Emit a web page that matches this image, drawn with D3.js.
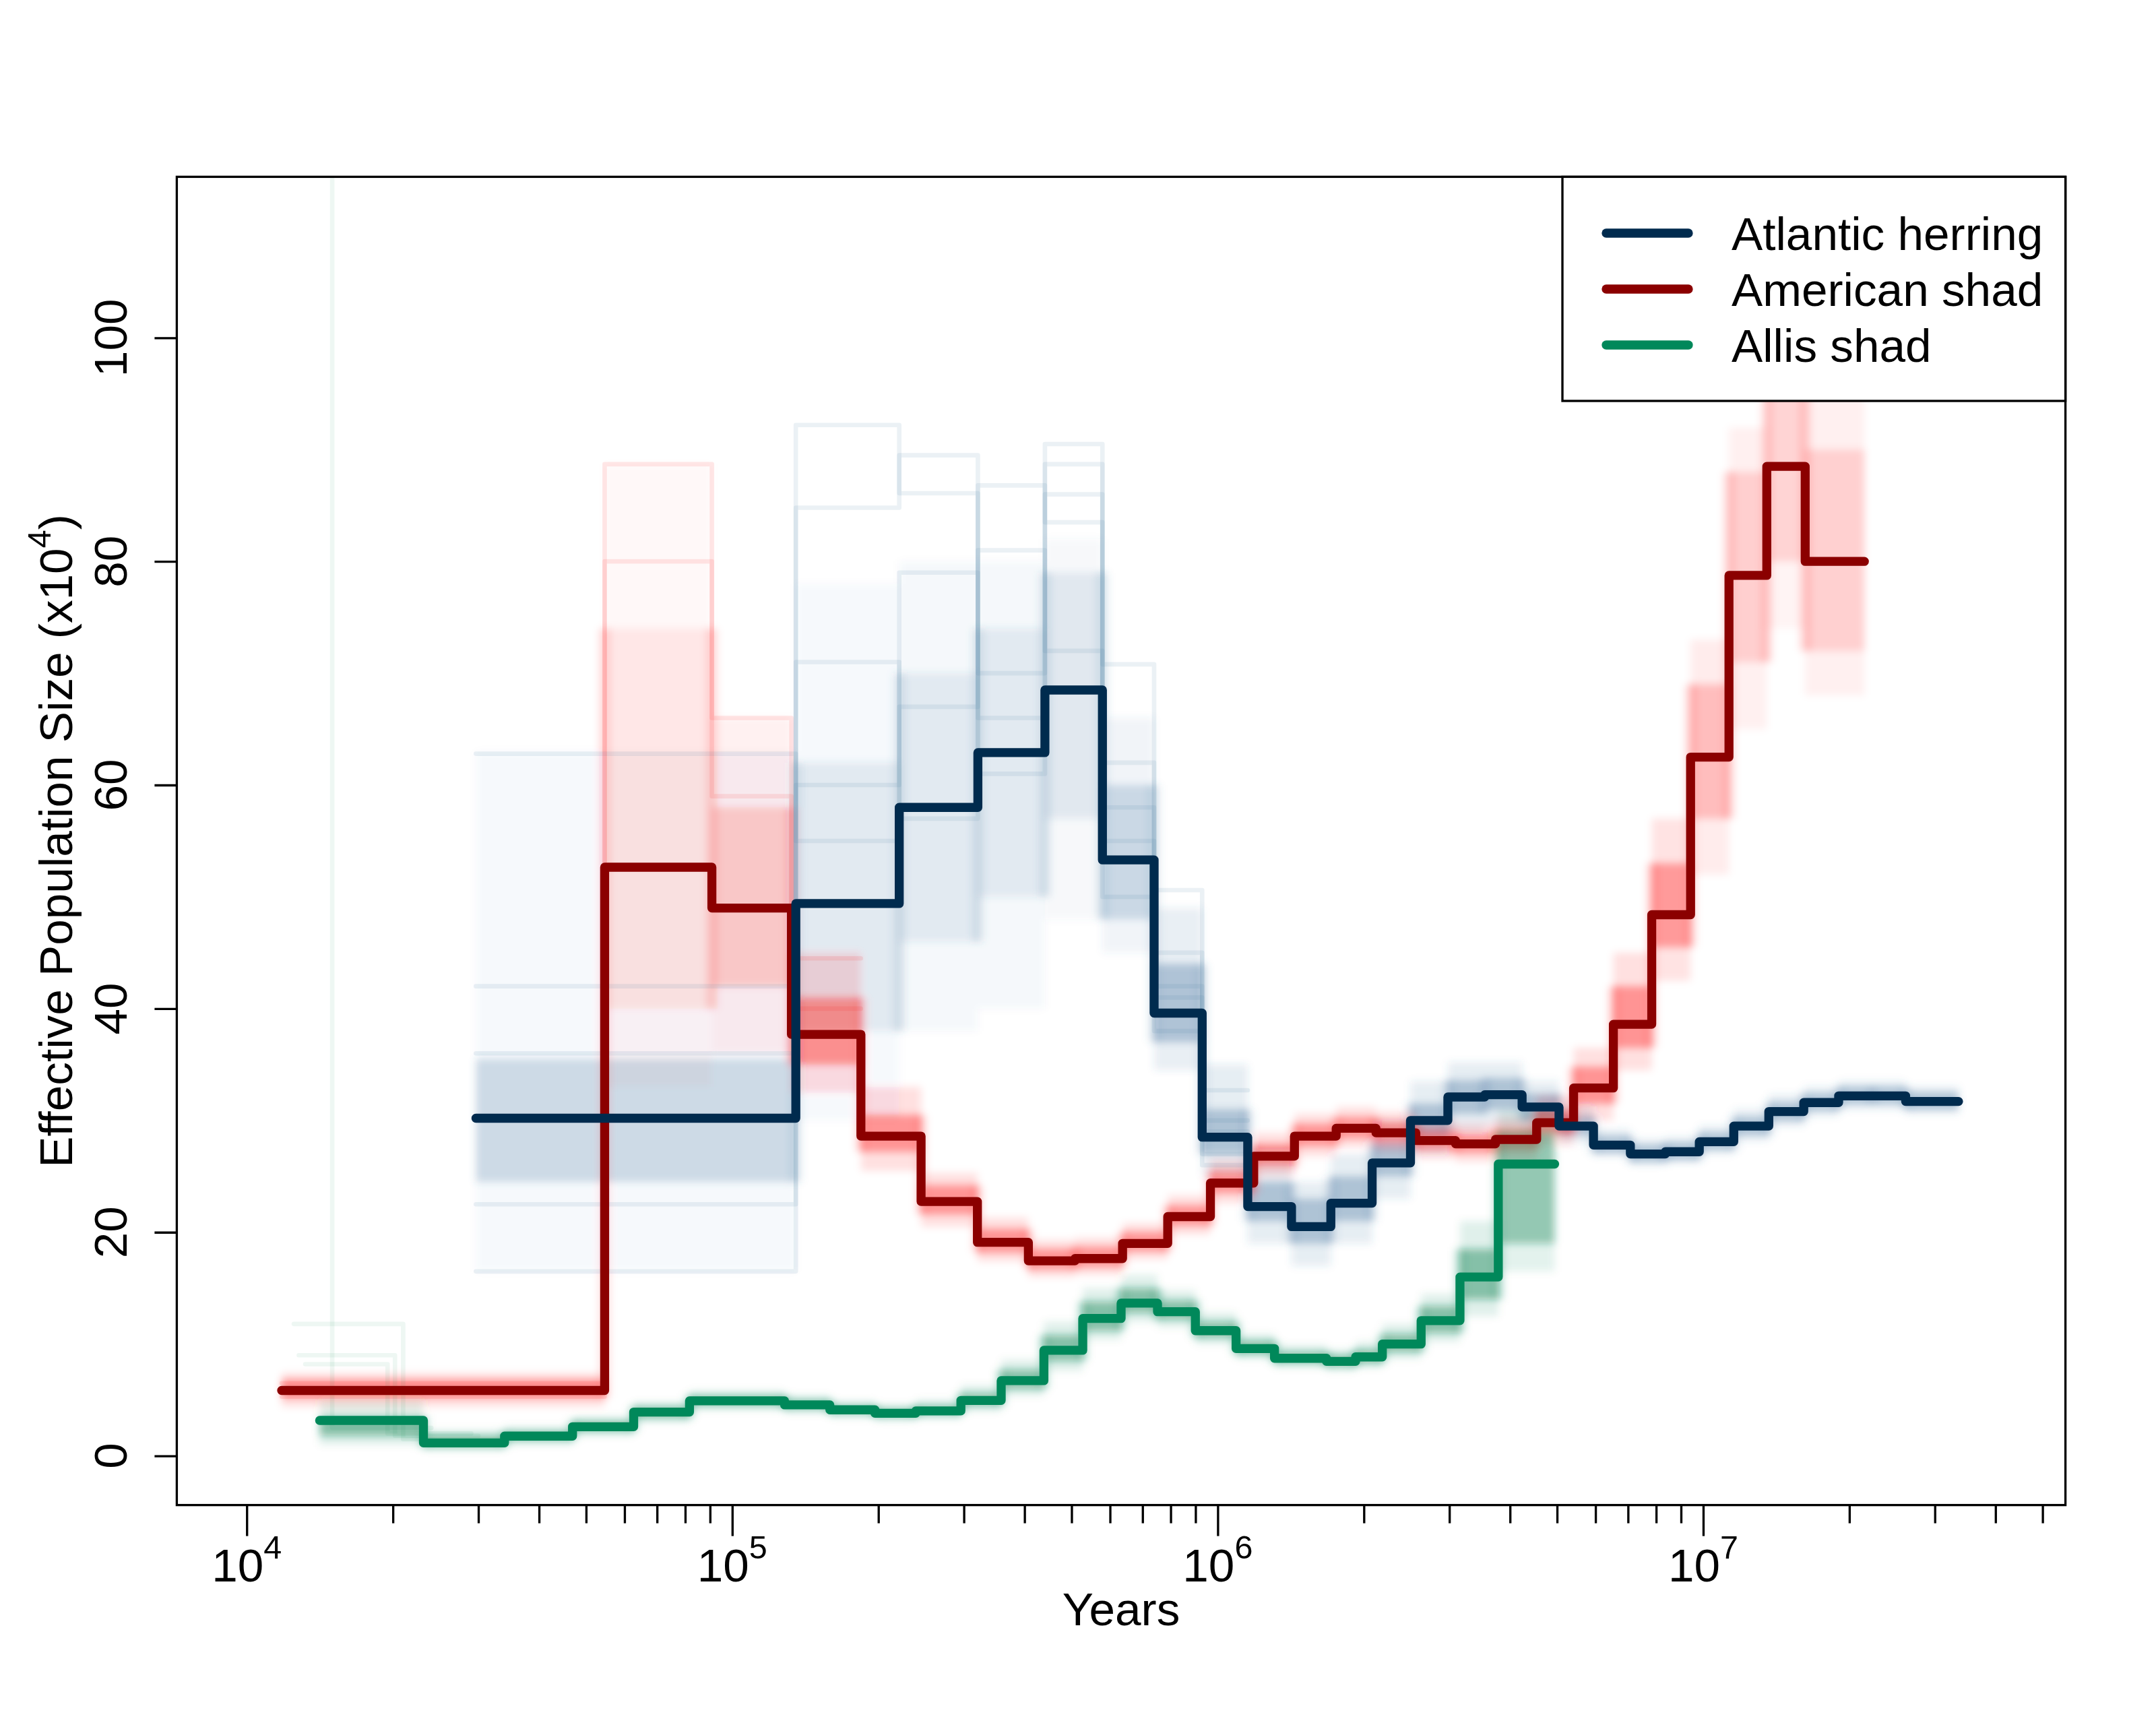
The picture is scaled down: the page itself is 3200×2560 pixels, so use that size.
<!DOCTYPE html>
<html>
<head>
<meta charset="utf-8">
<script src="https://cdn.jsdelivr.net/npm/d3@7"></script>
<style>
  html, body { margin: 0; padding: 0; background: #fff; }
  svg text { font-family: "Liberation Sans", Arial, Helvetica, sans-serif; fill: #000; }
</style>
</head>
<body>
<svg id="chart" width="3200" height="2560"></svg>
<script>
// ---- data (years, Ne in units of 10^4) ----
// Atlantic herring
var herringYears = [29650, 135200, 220800, 320600, 440600, 578800, 739600, 928900, 1153000, 1419000,
  1710000, 2080000, 2495000, 2979000, 3548000, 4236000, 5047000, 5943000, 7079000, 8356000,
  9817000, 11560000, 13650000, 16110000, 19010000, 22280000, 26120000, 33570000];
var herringNe = [30.2, 49.4, 58.0, 62.9, 68.5, 53.3, 39.6, 28.5, 22.3, 20.5, 22.6, 26.2, 30.0, 32.1,
  32.3, 31.2, 29.5, 27.8, 27.0, 27.2, 28.1, 29.5, 30.8, 31.6, 32.2, 32.2, 31.7];
var herringInnerLo = [24.5, 38, 46, 50, 57, 48, 37, 27, 21, 19, 21, 25, 28.6, 30.6, 31, 30, 28.7,
  27.1, 26.3, 26.5, 27.4, 28.7, 30.0, 30.9, 31.5, 31.5, 31.0];
var herringInnerHi = [35.5, 62, 70, 74, 79, 60, 44, 31, 24.5, 23, 25, 28, 31.5, 33.6, 33.8, 32.4,
  30.4, 28.6, 27.8, 28.0, 28.9, 30.3, 31.6, 32.4, 33.0, 33.0, 32.5];
var herringOuterLo = [16.5, 30, 38, 40, 48, 45, 34.5, 25, 19, 17, 19, 23, 27, 29, 29.5, 29, 28,
  26.8, 26, 26.2, 27, 28.2, 29.5, 30.4, 31, 31, 30.6];
var herringOuterHi = [63, 78, 80, 80, 82, 66, 49, 35, 27.5, 24.5, 27, 30, 33.5, 35.2, 35.2, 33.5,
  31.3, 29.2, 28.3, 28.5, 29.5, 31, 32.3, 33, 33.5, 33.5, 33];
// a few single bootstrap runs that stand out above the haze (first 8 intervals)
var herringRuns = [
  [22.5, 92.2, 86.1, 61, 90.5, 55, 42, 29],
  [42, 84.8, 89.5, 70, 88.7, 70.8, 50.6, 32.7],
  [36, 71, 57, 86.8, 83.5, 62, 45, 30],
  [16.5, 60, 79, 66, 86, 58, 41, 27],
  [62.8, 55, 67, 81, 72, 50, 38, 26]
];

// American shad
var shadYears = [11800, 54600, 90800, 132400, 184100, 244900, 319900, 407400, 508200, 636800,
  788900, 966000, 1186000, 1439000, 1754000, 2118000, 2559000, 3090000, 3733000, 4539000,
  5408000, 6531000, 7834000, 9419000, 11300000, 13520000, 16220000, 21480000];
var shadNe = [5.85, 52.65, 49.0, 37.7, 28.6, 22.75, 19.1, 17.45, 17.65, 19.0, 21.4, 24.4, 26.8,
  28.6, 29.3, 28.9, 28.2, 27.9, 28.3, 29.8, 32.9, 38.6, 48.4, 62.5, 78.75, 88.5, 80.0];
var shadInnerLo = [5.2, 40, 42, 35, 27.2, 21.6, 18.2, 16.7, 16.9, 18.3, 20.6, 23.5, 25.9, 27.7,
  28.4, 28.0, 27.4, 27.1, 27.4, 28.8, 31.5, 36.5, 45.5, 57, 71, 80, 72];
var shadInnerHi = [6.8, 74, 58, 41, 30.5, 24.2, 20.3, 18.5, 18.7, 20.0, 22.4, 25.5, 27.9, 29.7,
  30.3, 29.9, 29.1, 28.8, 29.3, 31.0, 34.8, 42, 53, 69, 88, 98, 90];
var shadOuterLo = [4.4, 33, 36, 32.5, 25.5, 20.5, 17.4, 16.0, 16.2, 17.6, 19.8, 22.6, 25.0, 26.8,
  27.6, 27.2, 26.6, 26.3, 26.5, 27.8, 30.0, 34.5, 42.5, 52, 65, 74, 68];
var shadOuterHi = [7.4, 88.7, 66, 45, 33, 25.3, 21.3, 19.3, 19.5, 20.8, 23.3, 26.5, 28.9, 30.6,
  31.2, 30.8, 30.0, 29.7, 30.2, 32.2, 36.5, 45, 57, 73, 92, 110, 95];
var shadRuns = [
  [5.3, 88.7, 66, 44.5],
  [6.5, 80, 59, 40]
];

// Allis shad
var allisYears = [14130, 23120, 33960, 46880, 62660, 81660, 128200, 158900, 196800, 238800,
  295800, 358100, 438500, 527200, 632400, 751600, 899500, 1091000, 1309000, 1675000,
  1923000, 2183000, 2624000, 3155000, 3784000, 4943000];
var allisNe = [3.17, 1.16, 1.77, 2.61, 3.92, 4.92, 4.56, 4.12, 3.81, 4.02, 4.96, 6.73, 9.44, 12.29,
  13.66, 12.89, 11.2, 9.60, 8.73, 8.45, 8.85, 10.0, 12.1, 16.0, 26.1];
var allisInnerLo = [1.8, 0.8, 1.4, 2.2, 3.4, 4.5, 4.2, 3.8, 3.5, 3.7, 4.5, 6.0, 8.5, 11.2, 12.8,
  12.2, 10.6, 9.1, 8.3, 8.0, 8.3, 9.3, 11.0, 14.0, 19.0];
var allisInnerHi = [3.5, 1.8, 2.2, 3.1, 4.4, 5.4, 5.0, 4.5, 4.2, 4.5, 5.6, 7.7, 10.8, 13.8, 15.0,
  13.9, 12.0, 10.3, 9.3, 9.0, 9.5, 10.9, 13.4, 18.5, 29.0];
var allisOuterLo = [1.0, 0.5, 1.0, 1.8, 3.0, 4.1, 3.8, 3.4, 3.1, 3.3, 4.0, 5.4, 7.6, 10.4, 12.0,
  11.5, 10.0, 8.7, 7.9, 7.6, 7.9, 8.7, 10.2, 12.5, 16.5];
var allisOuterHi = [5.0, 2.3, 2.6, 3.5, 4.8, 5.8, 5.4, 4.9, 4.6, 5.0, 6.3, 8.6, 12.0, 15.0, 16.2,
  14.8, 12.8, 10.9, 9.9, 9.5, 10.2, 11.8, 14.5, 21.0, 31.0];
var allisRunYears = [
  [12500, 21000, 33000],
  [12800, 20200, 30000],
  [13200, 19500, 29000],
  [11000, 15000, 24000]
];
var allisRunNe = [
  [11.8, 1.5],
  [9.0, 1.8],
  [8.2, 2.0],
  [300, 2.5]
];

// axes
var xMajor = [1e4, 1e5, 1e6, 1e7];
var xMajorExp = ["4", "5", "6", "7"];
var yTicks = [0, 20, 40, 60, 80, 100];
var xlim = [1e4, 4e7];
var ylim = [0, 110];

var legendNames = ["Atlantic herring", "American shad", "Allis shad"];
var legendColors = ["#002B4E", "#8B0000", "#00885A"];

// ---- layout ----
var plotL = 262.4, plotR = 3065.6, plotT = 262.4, plotB = 2233.6;
var fontSize = 69.3;
var lwd = 3.33;   // one R line width unit at this size

// R style 4% padding on both axes
var lx0 = Math.log10(xlim[0]), lx1 = Math.log10(xlim[1]);
var padX = (lx1 - lx0) * 0.04;
var x = d3.scaleLog()
  .domain([Math.pow(10, lx0 - padX), Math.pow(10, lx1 + padX)])
  .range([plotL, plotR]);
var padY = (ylim[1] - ylim[0]) * 0.04;
var y = d3.scaleLinear()
  .domain([ylim[0] - padY, ylim[1] + padY])
  .range([plotB, plotT]);

var svg = d3.select("#chart");

var defs = svg.append("defs");
defs.append("clipPath").attr("id", "plotClip")
  .append("rect")
  .attr("x", plotL).attr("y", plotT)
  .attr("width", plotR - plotL).attr("height", plotB - plotT);
defs.append("filter").attr("id", "soft")
  .attr("x", "-10%").attr("y", "-10%").attr("width", "120%").attr("height", "120%")
  .append("feGaussianBlur").attr("stdDeviation", 6);

// value i holds from years[i] to years[i+1]
function stepPts(years, vals) {
  var pts = vals.map(function(v, i) { return [years[i], v]; });
  pts.push([years[vals.length], vals[vals.length - 1]]);
  return pts;
}

var stepLine = d3.line()
  .x(function(d) { return x(d[0]); })
  .y(function(d) { return y(d[1]); })
  .curve(d3.curveStepAfter);

var plotArea = svg.append("g").attr("clip-path", "url(#plotClip)");

// bootstrap haze: one block per interval, fainter where the runs spread wider
var hazeLayer = plotArea.append("g").attr("filter", "url(#soft)");
var species = [
  { years: herringYears, iLo: herringInnerLo, iHi: herringInnerHi, oLo: herringOuterLo, oHi: herringOuterHi,
    col: "#3D6F9C", k: 2.6, cap: 0.34, smear: 0.16 },
  { years: shadYears, iLo: shadInnerLo, iHi: shadInnerHi, oLo: shadOuterLo, oHi: shadOuterHi,
    col: "#FF0000", k: 2.4, cap: 0.34, smear: 0.14 },
  { years: allisYears, iLo: allisInnerLo, iHi: allisInnerHi, oLo: allisOuterLo, oHi: allisOuterHi,
    col: "#12875A", k: 4.0, cap: 0.46, smear: 0.22 }
];

function hazeBlocks(g, s, lo, hi, k, cap) {
  g.selectAll(null)
    .data(lo.map(function(v, i) { return { t0: s.years[i], t1: s.years[i + 1], lo: v, hi: hi[i] }; }))
    .enter().append("rect")
    .attr("x", function(d) { return x(d.t0); })
    .attr("width", function(d) { return x(d.t1) - x(d.t0); })
    .attr("y", function(d) { return y(d.hi); })
    .attr("height", function(d) { return y(d.lo) - y(d.hi); })
    .attr("fill", s.col)
    .attr("fill-opacity", function(d) { return Math.min(cap, k / (d.hi - d.lo)); });
}

species.forEach(function(s) {
  var g = hazeLayer.append("g");
  hazeBlocks(g, s, s.oLo, s.oHi, 1.6, 0.12);
  hazeBlocks(g, s, s.iLo, s.iHi, s.k, s.cap);
  // vertical smear where the runs step from one interval to the next
  g.selectAll(null)
    .data(d3.range(1, s.iLo.length))
    .enter().append("rect")
    .attr("x", function(i) { return x(s.years[i]) - 8; })
    .attr("width", 16)
    .attr("y", function(i) { return y(Math.max(s.iHi[i - 1], s.iHi[i])); })
    .attr("height", function(i) {
      return y(Math.min(s.iLo[i - 1], s.iLo[i])) - y(Math.max(s.iHi[i - 1], s.iHi[i]));
    })
    .attr("fill", s.col)
    .attr("fill-opacity", s.smear);
});

// single bootstrap runs
var runLayer = plotArea.append("g")
  .attr("fill", "none")
  .attr("stroke-width", 2 * lwd)
  .attr("stroke-linejoin", "round")
  .attr("stroke-linecap", "round");
herringRuns.forEach(function(r) {
  runLayer.append("path")
    .attr("d", stepLine(stepPts(herringYears, r)))
    .attr("stroke", "#4A7CA8").attr("stroke-opacity", 0.11);
});
shadRuns.forEach(function(r) {
  runLayer.append("path")
    .attr("d", stepLine(stepPts(shadYears, r)))
    .attr("stroke", "#FF0000").attr("stroke-opacity", 0.09);
});
allisRunNe.forEach(function(r, i) {
  runLayer.append("path")
    .attr("d", stepLine(stepPts(allisRunYears[i], r)))
    .attr("stroke", "#12875A").attr("stroke-opacity", 0.07);
});

// main estimates
var mains = [
  { years: shadYears, vals: shadNe, col: legendColors[1] },
  { years: herringYears, vals: herringNe, col: legendColors[0] },
  { years: allisYears, vals: allisNe, col: legendColors[2] }
];
mains.forEach(function(m) {
  plotArea.append("path")
    .attr("d", stepLine(stepPts(m.years, m.vals)))
    .attr("fill", "none")
    .attr("stroke", m.col)
    .attr("stroke-width", 4 * lwd)
    .attr("stroke-linejoin", "round")
    .attr("stroke-linecap", "round");
});

// ---- axes ----
var xMinor = [];
xMajor.forEach(function(m) {
  for (var k = 2; k <= 9; k++) {
    if (k * m < x.domain()[1]) xMinor.push(k * m);
  }
});

var gxMinor = svg.append("g")
  .attr("transform", "translate(0," + plotB + ")")
  .call(d3.axisBottom(x).tickValues(xMinor).tickSize(27).tickSizeOuter(0).tickFormat(""));
var gxMajor = svg.append("g")
  .attr("transform", "translate(0," + plotB + ")")
  .call(d3.axisBottom(x).tickValues(xMajor).tickSize(46).tickSizeOuter(0).tickFormat(""));
var gy = svg.append("g")
  .attr("transform", "translate(" + plotL + ",0)")
  .call(d3.axisLeft(y).tickValues(yTicks).tickSize(33).tickSizeOuter(0).tickFormat(""));
[gxMinor, gxMajor, gy].forEach(function(g) {
  g.select(".domain").remove();
  g.selectAll(".tick line").attr("stroke", "#000").attr("stroke-width", lwd);
});

// x tick labels 10^n
xMajor.forEach(function(v, i) {
  var t = svg.append("text")
    .attr("x", x(v)).attr("y", 2347)
    .attr("text-anchor", "middle")
    .style("font-size", fontSize + "px");
  t.append("tspan").text("10");
  t.append("tspan").attr("dy", -34).style("font-size", (fontSize * 0.7) + "px").text(xMajorExp[i]);
});

// y tick labels, parallel to the axis
yTicks.forEach(function(v) {
  svg.append("text")
    .attr("transform", "translate(188," + y(v) + ") rotate(-90)")
    .attr("text-anchor", "middle")
    .style("font-size", fontSize + "px")
    .text(v);
});

// axis titles
svg.append("text")
  .attr("x", (plotL + plotR) / 2).attr("y", 2412)
  .attr("text-anchor", "middle")
  .style("font-size", fontSize + "px")
  .text("Years");

var yt = svg.append("text")
  .attr("transform", "translate(107," + ((plotT + plotB) / 2) + ") rotate(-90)")
  .attr("text-anchor", "middle")
  .style("font-size", fontSize + "px");
yt.append("tspan").text("Effective Population Size (x10");
yt.append("tspan").attr("dy", -32).style("font-size", (fontSize * 0.7) + "px").text("4");
yt.append("tspan").attr("dy", 32).text(")");

// plot box
svg.append("rect")
  .attr("x", plotL).attr("y", plotT)
  .attr("width", plotR - plotL).attr("height", plotB - plotT)
  .attr("fill", "none").attr("stroke", "#000").attr("stroke-width", lwd);

// ---- legend ----
var legend = svg.append("g");
legend.append("rect")
  .attr("x", 2319).attr("y", plotT)
  .attr("width", plotR - 2319).attr("height", 595 - plotT)
  .attr("fill", "#fff").attr("stroke", "#000").attr("stroke-width", lwd);
legendNames.forEach(function(name, i) {
  var cy = 346 + i * 83;
  legend.append("line")
    .attr("x1", 2384).attr("x2", 2506)
    .attr("y1", cy).attr("y2", cy)
    .attr("stroke", legendColors[i])
    .attr("stroke-width", 4 * lwd)
    .attr("stroke-linecap", "round");
  legend.append("text")
    .attr("x", 2570).attr("y", cy + 25)
    .style("font-size", fontSize + "px")
    .text(name);
});
</script>
</body>
</html>
